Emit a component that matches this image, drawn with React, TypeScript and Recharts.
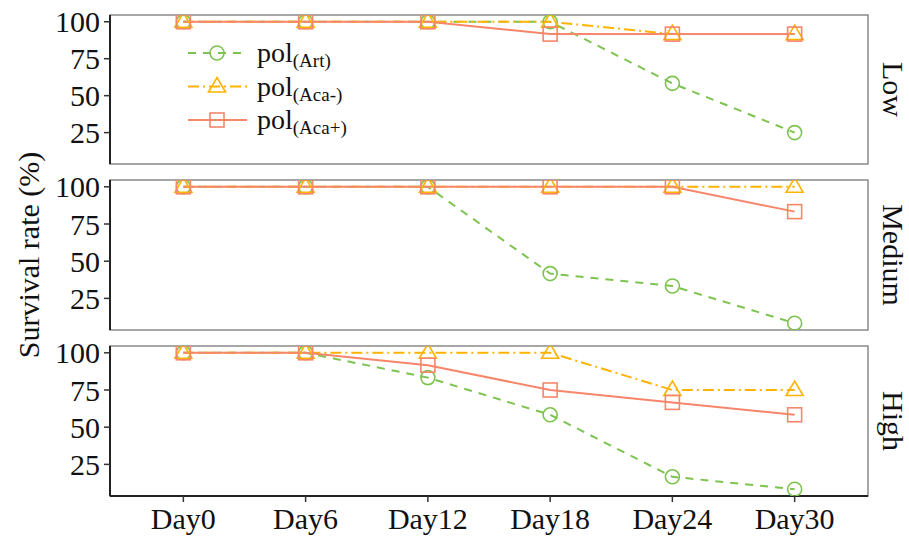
import React from "react";
import { LineChart, Line, XAxis, YAxis, ReferenceArea, Legend } from "recharts";

const DAYS = ["Day0", "Day6", "Day12", "Day18", "Day24", "Day30"];
const DAY_INDEX = [0, 1, 2, 3, 4, 5];

const LOW_ART = [100, 100, 100, 100, 58.33, 25];
const LOW_ACA_MINUS = [100, 100, 100, 100, 91.67, 91.67];
const LOW_ACA_PLUS = [100, 100, 100, 91.67, 91.67, 91.67];

const MEDIUM_ART = [100, 100, 100, 41.67, 33.33, 8.33];
const MEDIUM_ACA_MINUS = [100, 100, 100, 100, 100, 100];
const MEDIUM_ACA_PLUS = [100, 100, 100, 100, 100, 83.33];

const HIGH_ART = [100, 100, 83.33, 58.33, 16.67, 8.33];
const HIGH_ACA_MINUS = [100, 100, 100, 100, 75, 75];
const HIGH_ACA_PLUS = [100, 100, 91.67, 75, 66.67, 58.33];

const Y_TICKS = [25, 50, 75, 100];
const Y_DOMAIN: [number, number] = [3.75, 104.58];
const X_DOMAIN: [number, number] = [-0.6, 5.6];

const PANEL_LABELS = ["Low", "Medium", "High"];
const Y_LABEL = "Survival rate (%)";

const FONT = "'Liberation Serif', 'Times New Roman', serif";

type Series = {
  key: string;
  main: string;
  sub: string;
  color: string;
  dash?: string;
  marker: "circle" | "triangle" | "square";
};

const SERIES: Series[] = [
  { key: "art", main: "pol", sub: "(Art)", color: "#7DC34F", dash: "8 7", marker: "circle" },
  { key: "acaMinus", main: "pol", sub: "(Aca-)", color: "#FFB300", dash: "11 4 2 4", marker: "triangle" },
  { key: "acaPlus", main: "pol", sub: "(Aca+)", color: "#F7866A", dash: undefined, marker: "square" },
];

function makeRows(art: number[], minus: number[], plus: number[]) {
  return DAY_INDEX.map((i) => ({ i, art: art[i], acaMinus: minus[i], acaPlus: plus[i] }));
}

const PANELS = [
  makeRows(LOW_ART, LOW_ACA_MINUS, LOW_ACA_PLUS),
  makeRows(MEDIUM_ART, MEDIUM_ACA_MINUS, MEDIUM_ACA_PLUS),
  makeRows(HIGH_ART, HIGH_ACA_MINUS, HIGH_ACA_PLUS),
];

function Marker({ kind, cx, cy, color }: { kind: string; cx: number; cy: number; color: string }) {
  if (kind === "circle") {
    return <circle cx={cx} cy={cy} r={7} fill="none" stroke={color} strokeWidth={1.6} />;
  }
  if (kind === "triangle") {
    return (
      <path
        d={`M${cx},${cy - 9} L${cx + 8.5},${cy + 5.5} L${cx - 8.5},${cy + 5.5} Z`}
        fill="none"
        stroke={color}
        strokeWidth={1.6}
        strokeLinejoin="miter"
      />
    );
  }
  return <rect x={cx - 7} y={cy - 7} width={14} height={14} fill="none" stroke={color} strokeWidth={1.6} />;
}

function LegendContent() {
  return (
    <svg width={220} height={110} style={{ overflow: "visible" }}>
      {SERIES.map((s, k) => {
        const y = 18 + k * 33.5;
        return (
          <g key={s.key}>
            <line x1={3} x2={62} y1={y} y2={y} stroke={s.color} strokeWidth={2} strokeDasharray={s.dash} />
            <Marker kind={s.marker} cx={32} cy={y} color={s.color} />
            <text x={72} y={y + 9} fontFamily={FONT} fontSize={28} fill="#111">
              <tspan>{s.main}</tspan>
              <tspan fontSize={19} dy={5}>{s.sub}</tspan>
            </text>
          </g>
        );
      })}
    </svg>
  );
}

function Panel({
  data,
  top,
  height,
  showX,
  withLegend,
}: {
  data: any[];
  top: number;
  height: number;
  showX: boolean;
  withLegend: boolean;
}) {
  return (
    <div style={{ position: "absolute", left: 0, top, width: 909, height }}>
      <LineChart
        width={909}
        height={height}
        data={data}
        margin={{ top: 15, right: 41, bottom: showX ? 0 : 10, left: 0 }}
      >
        <ReferenceArea
          x1={X_DOMAIN[0]}
          x2={X_DOMAIN[1]}
          y1={Y_DOMAIN[0]}
          y2={Y_DOMAIN[1]}
          fill="none"
          fillOpacity={0}
          stroke="#8a8a8a"
          strokeWidth={1.5}
        />
        <XAxis
          dataKey="i"
          type="number"
          domain={X_DOMAIN}
          ticks={DAY_INDEX}
          interval={0}
          tickFormatter={(v: number) => DAYS[v]}
          allowDataOverflow
          height={showX ? 44 : 0}
          tick={showX ? { fontSize: 30, fill: "#111", fontFamily: FONT } : false}
          tickLine={showX ? { stroke: "#333", strokeWidth: 1.5 } : false}
          tickSize={6}
          tickMargin={6}
          axisLine={{ stroke: "#222", strokeWidth: 2 }}
        />
        <YAxis
          type="number"
          domain={Y_DOMAIN}
          ticks={Y_TICKS}
          interval={0}
          allowDataOverflow
          width={110}
          tick={{ fontSize: 30, fill: "#111", fontFamily: FONT }}
          tickLine={{ stroke: "#333", strokeWidth: 1.5 }}
          tickSize={6}
          tickMargin={4}
          axisLine={{ stroke: "#222", strokeWidth: 2 }}
        />
        {SERIES.map((s) => (
          <Line
            key={s.key}
            dataKey={s.key}
            name={s.sub}
            type="linear"
            stroke={s.color}
            strokeWidth={2}
            strokeDasharray={s.dash}
            isAnimationActive={false}
            dot={(p: any) => <Marker key={`${s.key}-${p.index}`} kind={s.marker} cx={p.cx} cy={p.cy} color={s.color} />}
            activeDot={false}
          />
        ))}
        {withLegend && (
          <Legend
            layout="vertical"
            align="center"
            verticalAlign="middle"
            content={() => <LegendContent />}
            wrapperStyle={{ left: 185, top: 35, width: 220, height: 110 }}
          />
        )}
      </LineChart>
    </div>
  );
}

export default function App() {
  const panelCenters = [89.5, 255, 421];
  return (
    <div style={{ position: "absolute", left: 0, top: 0, width: 909, height: 540, background: "#fff" }}>
      <Panel data={PANELS[0]} top={0} height={174} showX={false} withLegend={true} />
      <Panel data={PANELS[1]} top={165} height={175} showX={false} withLegend={false} />
      <Panel data={PANELS[2]} top={331} height={209} showX={true} withLegend={false} />
      <svg
        width={909}
        height={540}
        style={{ position: "absolute", left: 0, top: 0, pointerEvents: "none" }}
      >
        <text
          x={28}
          y={255}
          transform="rotate(-90 28 255)"
          textAnchor="middle"
          dominantBaseline="central"
          fontFamily={FONT}
          fontSize={30}
          fill="#111"
        >
          {Y_LABEL}
        </text>
        {PANEL_LABELS.map((label, k) => (
          <text
            key={label}
            x={893}
            y={panelCenters[k]}
            transform={`rotate(90 893 ${panelCenters[k]})`}
            textAnchor="middle"
            dominantBaseline="central"
            fontFamily={FONT}
            fontSize={30}
            fill="#111"
          >
            {label}
          </text>
        ))}
      </svg>
    </div>
  );
}
